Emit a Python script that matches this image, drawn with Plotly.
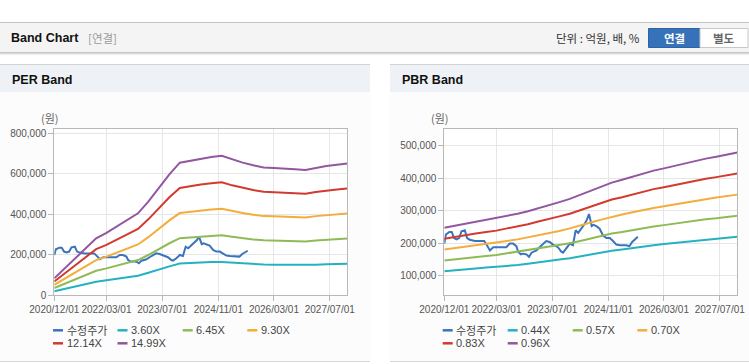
import plotly.graph_objects as go

W, H = 749, 364

# ---------------- data ----------------
band_dates = ["2020-12-01", "2021-03-01", "2021-06-01", "2021-09-01", "2021-12-01",
              "2022-03-01", "2022-06-01", "2022-09-01", "2022-12-01", "2023-03-01",
              "2023-06-01", "2023-09-01", "2023-12-01", "2024-03-01", "2024-06-01",
              "2024-09-01", "2024-12-01", "2025-03-01", "2025-06-01", "2025-09-01",
              "2025-12-01", "2026-03-01", "2026-06-01", "2026-09-01", "2026-12-01",
              "2027-03-01", "2027-06-01", "2027-09-01", "2027-12-01"]

per_360 = [20000, 32000, 44000, 56000, 67000, 74000, 82000, 89000, 97000, 111000,
           128000, 143000, 157000, 160000, 162000, 164000, 165000, 161000, 157000, 154000,
           152000, 151000, 151000, 150000, 149000, 151000, 153000, 155000, 156000]
per_645 = [36000, 57000, 79000, 101000, 121000, 133000, 147000, 159000, 174000, 199000,
           229000, 257000, 282000, 286000, 291000, 294000, 296000, 289000, 282000, 276000,
           272000, 271000, 270000, 268000, 266000, 271000, 275000, 278000, 280000]
per_930 = [52000, 82000, 114000, 146000, 174000, 191000, 212000, 230000, 251000, 287000,
           330000, 370000, 406000, 413000, 419000, 424000, 427000, 416000, 406000, 398000,
           391000, 390000, 389000, 387000, 384000, 391000, 396000, 400000, 404000]
per_1214 = [68000, 107000, 149000, 190000, 228000, 249000, 276000, 300000, 328000, 375000,
            431000, 484000, 530000, 539000, 547000, 553000, 558000, 543000, 530000, 520000,
            511000, 509000, 508000, 505000, 501000, 510000, 517000, 522000, 527000]
per_1499 = [84000, 132000, 184000, 235000, 281000, 308000, 341000, 370000, 405000, 463000,
            532000, 597000, 655000, 665000, 676000, 683000, 689000, 671000, 655000, 642000,
            631000, 629000, 627000, 623000, 619000, 630000, 638000, 645000, 651000]

pbr_044 = [114000, 116000, 120000, 122000, 125000, 127000, 130000, 133000, 137000, 142000,
           145000, 150000, 154000, 160000, 166000, 171000, 177000, 181000, 186000, 191000,
           194000, 198000, 201000, 205000, 209000, 211000, 214000, 217000, 220000]
pbr_057 = [147000, 151000, 155000, 158000, 161000, 164000, 169000, 173000, 178000, 183000,
           188000, 194000, 200000, 207000, 215000, 222000, 230000, 235000, 241000, 247000,
           252000, 256000, 261000, 265000, 270000, 274000, 277000, 281000, 285000]
pbr_070 = [181000, 185000, 190000, 194000, 198000, 202000, 207000, 212000, 218000, 225000,
           231000, 238000, 246000, 254000, 264000, 273000, 282000, 289000, 296000, 303000,
           309000, 314000, 320000, 326000, 332000, 336000, 341000, 345000, 350000]
pbr_083 = [214000, 220000, 226000, 230000, 235000, 239000, 246000, 252000, 259000, 267000,
           274000, 283000, 291000, 302000, 313000, 323000, 335000, 342000, 351000, 360000,
           367000, 373000, 380000, 386000, 393000, 399000, 404000, 409000, 415000]
pbr_096 = [248000, 254000, 261000, 266000, 272000, 277000, 284000, 291000, 299000, 309000,
           317000, 327000, 337000, 349000, 362000, 374000, 387000, 396000, 406000, 416000,
           424000, 431000, 439000, 447000, 455000, 461000, 467000, 473000, 480000]

price_dates = ["2020-12-01", "2020-12-15", "2021-01-14", "2021-02-04", "2021-02-24",
               "2021-03-17", "2021-04-10", "2021-04-30", "2021-05-29", "2021-06-18",
               "2021-07-11", "2021-08-24", "2021-10-07", "2021-11-14", "2021-12-04",
               "2022-01-03", "2022-02-01", "2022-03-15", "2022-04-28", "2022-05-26",
               "2022-06-25", "2022-07-24", "2022-08-22", "2022-09-06", "2022-09-30",
               "2022-10-19", "2022-11-18", "2022-12-10", "2023-01-01", "2023-02-13",
               "2023-03-12", "2023-04-10", "2023-05-09", "2023-06-08", "2023-07-07",
               "2023-08-19", "2023-09-18", "2023-10-03", "2023-11-01", "2023-12-01",
               "2023-12-28", "2024-01-21", "2024-02-12", "2024-03-10", "2024-04-09",
               "2024-04-28", "2024-05-16", "2024-05-28", "2024-06-09", "2024-06-25",
               "2024-07-19", "2024-08-17", "2024-09-16", "2024-10-15", "2024-11-13",
               "2024-12-12", "2025-01-10", "2025-02-09", "2025-03-08", "2025-04-06",
               "2025-05-04", "2025-05-28", "2025-06-18", "2025-07-16"]
price = [199000, 227000, 235000, 235000, 216000, 212000, 216000, 237000, 240000, 216000,
         211000, 207000, 207000, 207000, 196000, 178000, 188000, 188000, 186000, 188000,
         199000, 199000, 191000, 174000, 166000, 168000, 166000, 158000, 171000, 178000,
         188000, 199000, 207000, 204000, 196000, 188000, 174000, 171000, 183000, 199000,
         194000, 240000, 232000, 245000, 260000, 273000, 290000, 273000, 253000, 257000,
         253000, 245000, 224000, 216000, 216000, 207000, 196000, 194000, 194000, 194000,
         191000, 204000, 211000, 220000]

x_ticks = ["2020-12-01", "2022-03-01", "2023-07-01", "2024-11-01", "2026-03-01", "2027-07-01"]
x_tick_text = ["2020/12/01", "2022/03/01", "2023/07/01", "2024/11/01", "2026/03/01", "2027/07/01"]
per_yticks = [0, 200000, 400000, 600000, 800000]
pbr_yticks = [100000, 200000, 300000, 400000, 500000]

price_name = "수정주가"
per_names = ["3.60X", "6.45X", "9.30X", "12.14X", "14.99X"]
pbr_names = ["0.44X", "0.57X", "0.70X", "0.83X", "0.96X"]

# ---------------- styles ----------------
C_PRICE = "#3b74bd"
BAND_COLORS = ["#25b2c0", "#8fbb56", "#f3ad3b", "#d33a2f", "#9356a0"]
FONT = "Liberation Sans, Arial, Noto Sans CJK KR, sans-serif"
KFONT = "Noto Sans CJK KR, Liberation Sans, sans-serif"


def fx(p):
    return p / W


def fy(p):
    return 1 - p / H


fig = go.Figure()

per_series = [per_360, per_645, per_930, per_1214, per_1499]
pbr_series = [pbr_044, pbr_057, pbr_070, pbr_083, pbr_096]

fig.add_trace(go.Scatter(x=price_dates, y=price, name=price_name, mode="lines",
                         line=dict(color=C_PRICE, width=2), xaxis="x", yaxis="y"))
for vals, nm, col in zip(per_series, per_names, BAND_COLORS):
    fig.add_trace(go.Scatter(x=band_dates, y=vals, name=nm, mode="lines",
                             line=dict(color=col, width=2), xaxis="x", yaxis="y"))

fig.add_trace(go.Scatter(x=price_dates, y=price, name=price_name, mode="lines",
                         line=dict(color=C_PRICE, width=2), xaxis="x2", yaxis="y2"))
for vals, nm, col in zip(pbr_series, pbr_names, BAND_COLORS):
    fig.add_trace(go.Scatter(x=band_dates, y=vals, name=nm, mode="lines",
                             line=dict(color=col, width=2), xaxis="x2", yaxis="y2"))

# plot areas (pixels)
PL = (54.3, 347.3)
PR = (444.3, 737.3)
PT, PB = 128.7, 295.3

axis_common = dict(showgrid=True, gridcolor="#e6e6e6", gridwidth=1, showline=True,
                   linecolor="#b8b8b8", linewidth=1, mirror=True, ticks="outside",
                   ticklen=5, tickcolor="#b8b8b8", zeroline=False, automargin=False,
                   tickfont=dict(family=FONT, size=10, color="#555555"))

xcommon = dict(axis_common, type="date", range=["2020-12-01", "2027-12-01"],
               tickvals=x_ticks, ticktext=x_tick_text, tickangle=0)

fig.update_layout(
    xaxis=dict(xcommon, domain=[fx(PL[0]), fx(PL[1])], anchor="y"),
    yaxis=dict(axis_common, domain=[fy(PB), fy(PT)], range=[0, 822700],
               tickvals=per_yticks, tickformat=",d", anchor="x"),
    xaxis2=dict(xcommon, domain=[fx(PR[0]), fx(PR[1])], anchor="y2"),
    yaxis2=dict(axis_common, domain=[fy(PB), fy(PT)], range=[39600, 553300],
                tickvals=pbr_yticks, tickformat=",d", anchor="x2"),
    width=W, height=H, margin=dict(l=0, r=0, t=0, b=0, autoexpand=False),
    paper_bgcolor="white", plot_bgcolor="white", showlegend=False,
    font=dict(family=FONT),
)

shapes = []


def rect(x0, y0, x1, y1, fill, line=None, lw=0):
    shapes.append(dict(type="rect", xref="paper", yref="paper", x0=fx(x0), x1=fx(x1),
                       y0=fy(y1), y1=fy(y0), fillcolor=fill,
                       line=dict(color=line or fill, width=lw), layer="below"))


def hline(x0, x1, y, color, w=1):
    shapes.append(dict(type="line", xref="paper", yref="paper", x0=fx(x0), x1=fx(x1),
                       y0=fy(y), y1=fy(y), line=dict(color=color, width=w), layer="below"))


# header bar
rect(0, 22, W, 52.5, "#f4f4f4")
hline(0, W, 22.5, "#c2c2c2")
hline(0, W, 52.5, "#c6c6c6")
hline(0, W, 53.5, "#dcdcdc")
hline(0, W, 54.5, "#ededed")
# buttons
rect(648.5, 28.5, 700, 47.5, "#3572ba", "#2d63a5", 1)
rect(700, 28.5, 748, 47.5, "#ffffff", "#c8c8c8", 1)

# panels
for (a, b) in [(0, 370), (390, W)]:
    rect(a, 64, b, 92.5, "#eef1f6")
    hline(a, b, 64.5, "#d3d3d3")
    rect(a, 92.5, b, 361, "#fcfcfc")
    hline(a, b, 361.5, "#d6d6d6")

# white plot areas
rect(PL[0], PT, PL[1], PB, "#ffffff")
rect(PR[0], PT, PR[1], PB, "#ffffff")

annotations = []


def text(x, y, s, size=12, color="#222", bold=False, anchor="left", family=KFONT):
    if bold:
        s = "<b>" + s + "</b>"
    annotations.append(dict(xref="paper", yref="paper", x=fx(x), y=fy(y), text=s,
                            showarrow=False, xanchor=anchor, yanchor="middle",
                            borderpad=0, font=dict(size=size, color=color, family=family)))


text(10, 38, "Band Chart", 12.5, "#111111", True, family=FONT)
text(87, 38, "[연결]", 11.5, "#9a9a9a")
text(641, 38, "단위 : 억원, 배, %", 11.5, "#333333", anchor="right")
text(674, 38, "연결", 11.5, "#ffffff", True, anchor="center")
text(724, 38, "별도", 11.5, "#666666", True, anchor="center")
text(11, 80, "PER Band", 12.5, "#111111", True, family=FONT)
text(401, 80, "PBR Band", 12.5, "#111111", True, family=FONT)
text(50, 118, "(원)", 11, "#666666", anchor="center")
text(440, 118, "(원)", 11, "#666666", anchor="center")

# manual legends
legend_cols_left = [53, 117.5, 182.7, 247.3]
legend_cols_right = [442.7, 507.7, 572.7, 637.3]
rows = [330.3, 343.3]
for cols, names in [(legend_cols_left, per_names), (legend_cols_right, pbr_names)]:
    entries = [(price_name, C_PRICE)] + list(zip(names, BAND_COLORS))
    for i, (nm, col) in enumerate(entries):
        x = cols[i % 4]
        y = rows[i // 4]
        shapes.append(dict(type="line", xref="paper", yref="paper", x0=fx(x), x1=fx(x + 10),
                           y0=fy(y), y1=fy(y), line=dict(color=col, width=2.5)))
        fam = KFONT if nm == price_name else FONT
        text(x + 12.5, y, nm, 11, "#444444", family=fam)

fig.update_layout(shapes=shapes, annotations=annotations)

fig.write_html("out.html", config={"displayModeBar": False},
               post_script="document.body.style.margin='0';")
